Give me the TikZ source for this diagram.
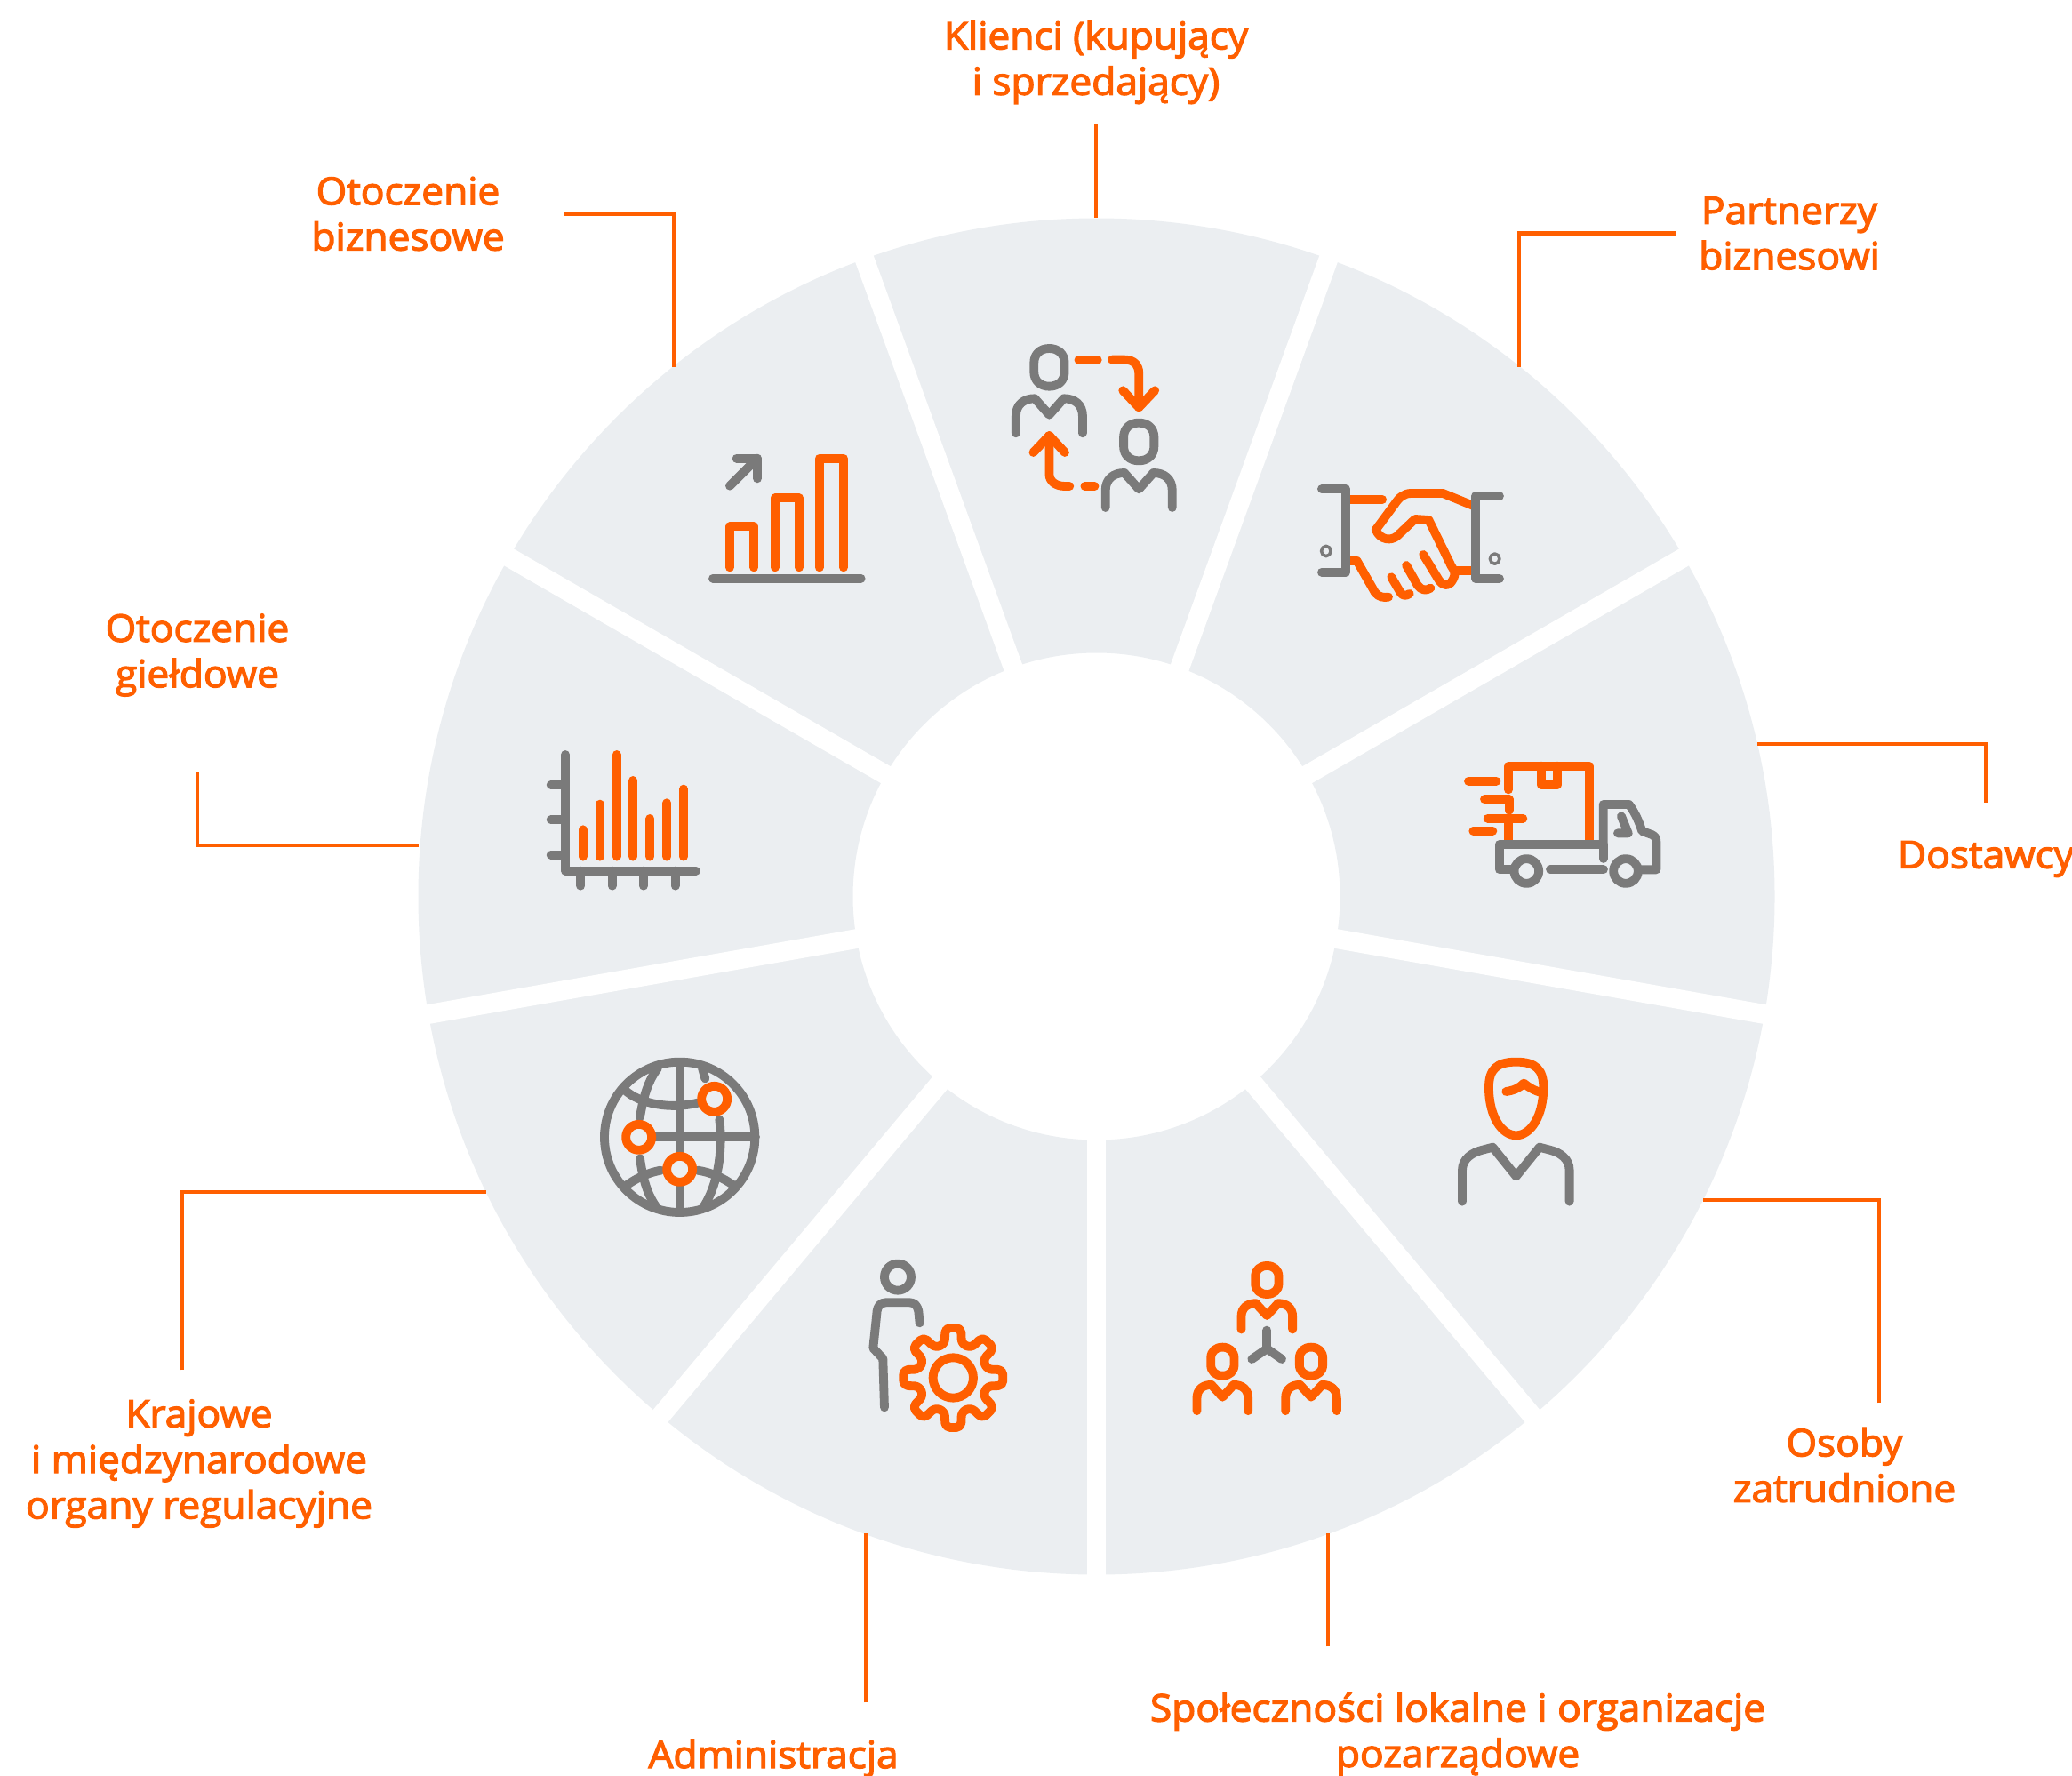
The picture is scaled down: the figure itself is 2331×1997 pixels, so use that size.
\documentclass[tikz,border=0pt]{standalone}
\usepackage{fontspec}
\setmainfont{Open Sans}[FakeBold=3, FakeStretch=1.04]
\usepackage{xcolor}
\usepackage{tikz}
\usetikzlibrary{calc}
\definecolor{accentorange}{RGB}{255, 95, 0}
\definecolor{icongrey}{RGB}{122, 122, 122}
\definecolor{wheelgrey}{RGB}{235, 238, 241}
\tikzset{
    iconOrange/.style={color=accentorange, line width=2.8pt, line cap=round, line join=round},
    iconGrey/.style={color=icongrey, line width=2.8pt, line cap=round, line join=round},
    leader/.style={draw=accentorange, line width=1.3pt},
    lab/.style={text=accentorange, font=\fontsize{12.1pt}{14.6pt}\selectfont, align=center, inner sep=0pt},
    personicon/.pic={
        \draw (-42,-15) .. controls (-42,-45) and (-25,-64) .. (0,-64) .. controls (25,-64) and (42,-45) .. (42,-15) -- (42,15) .. controls (42,45) and (25,64) .. (0,64) .. controls (-25,64) and (-42,45) .. (-42,15) -- cycle;
        \draw (-92,222) -- (-92,165) .. controls (-92,125) and (-70,105) .. (-40,105) -- (0,160) -- (40,105) .. controls (70,105) and (92,125) .. (92,165) -- (92,222);
    }
}

\begin{document}
\begin{tikzpicture}[x=0.01cm, y=-0.01cm]
        \useasboundingbox (0,0) rectangle (2331,1997);

        % Wheel
        \coordinate (hub) at (1233.5,1008.5);
        \fill[wheelgrey, even odd rule] (hub) circle (763) (hub) circle (274);
        \foreach \ang in {10,50,...,330}
            \draw[white, line width=6.2pt] (hub) -- ++(\ang:800);

        % Labels
        \node[lab, outer ysep=6.5pt] (klienci) at (1233,70) {Klienci (kupujący\\i sprzedający)};
        \node[lab, outer xsep=7.5pt] (partnerzy) at (2013,262.5) {Partnerzy\\biznesowi};
        \node[lab, outer ysep=12.3pt] (dostawcy) at (2234,966.5) {Dostawcy};
        \node[lab, outer ysep=7.85pt] (osoby) at (2075,1648) {Osoby\\zatrudnione};
        \node[lab, outer ysep=14.7pt] (spolecznosci) at (1640,1951) {Społeczności lokalne i organizacje\\pozarządowe};
        \node[lab, outer ysep=11.8pt] (administracja) at (870,1978) {Administracja};
        \node[lab, outer ysep=9.4pt] (krajowe) at (224,1646.5) {Krajowe\\i międzynarodowe\\organy regulacyjne};
        \node[lab, outer ysep=24.4pt] (gieldowe) at (222,737) {Otoczenie\\giełdowe};
        \node[lab, outer xsep=19.15pt] (biznesowe) at (459,240.5) {Otoczenie\\biznesowe};

        % Leaders
        \coordinate (klienciRim) at (1233,245);
        \coordinate (partnerzyRim) at (1709,413);
        \coordinate (dostawcyRim) at (1977,837);
        \coordinate (osobyRim) at (1916,1350);
        \coordinate (spolecznosciRim) at (1494,1725);
        \coordinate (administracjaRim) at (974,1725);
        \coordinate (krajoweRim) at (547,1341);
        \coordinate (gieldoweRim) at (471,951);
        \coordinate (biznesoweRim) at (758,413);
        \coordinate (osobyTip) at (osoby.north -| 2114,0);
        \coordinate (spolecznosciTip) at (spolecznosci.north -| spolecznosciRim);
        \coordinate (administracjaTip) at (administracja.north -| administracjaRim);
        \coordinate (krajoweTip) at (krajowe.north -| 205,0);
        \draw[leader] (klienci.south) -- (klienciRim);
        \draw[leader] (partnerzy.west) -| (partnerzyRim);
        \draw[leader] (dostawcy.north) |- (dostawcyRim);
        \draw[leader] (osobyTip) |- (osobyRim);
        \draw[leader] (spolecznosciTip) -- (spolecznosciRim);
        \draw[leader] (administracjaTip) -- (administracjaRim);
        \draw[leader] (krajoweTip) |- (krajoweRim);
        \draw[leader] (gieldowe.south) |- (gieldoweRim);
        \draw[leader] (biznesowe.east) -| (biznesoweRim);

        % Clients and handshake
        \begin{scope}[shift={(1100,360)}, xscale=0.40816, yscale=0.3333]
            \pic[iconGrey, transform shape] at (197,160) {personicon};
            \pic[iconGrey, transform shape] at (444,411) {personicon};
            \draw[iconOrange] (278,134) -- (330,134);
            \draw[iconOrange] (370,134) -- (405,134) .. controls (430,134) and (444,152) .. (444,180) -- (444,295);
            \draw[iconOrange] (400,238) -- (444,295) -- (488,238);
            \draw[iconOrange] (197,390) -- (197,520) .. controls (197,545) and (215,561) .. (240,561) -- (253,561);
            \draw[iconOrange] (295,561) -- (322,561);
            \draw[iconOrange] (153,447) -- (197,390) -- (240,447);
            % hands
            \draw[iconOrange] (1028,606) -- (1115,606);
            \draw[iconOrange] (1372,630) -- (1282,585) -- (1195,585) .. controls (1175,585) and (1162,598) .. (1150,620) -- (1097,708) .. controls (1110,745) and (1140,745) .. (1155,730) -- (1205,672) -- (1243,675) -- (1305,830) .. controls (1315,850) and (1318,855) .. (1310,875) .. controls (1300,900) and (1285,900) .. (1272,880) -- (1228,792);
            \draw[iconOrange] (1318,845) -- (1372,845);
            \draw[iconOrange] (1028,813) -- (1045,813) -- (1095,920) .. controls (1105,935) and (1118,938) .. (1132,935);
            \draw[iconOrange] (1140,868) -- (1165,920) .. controls (1172,932) and (1180,932) .. (1190,924);
            \draw[iconOrange] (1181,828) -- (1212,895) .. controls (1222,912) and (1235,915) .. (1248,905);
            \draw[iconGrey] (948,571) -- (1015,571) -- (1015,851) -- (948,851);
            \draw[iconGrey] (1438,595) -- (1372,595) -- (1372,873) -- (1438,873);
            \draw[iconGrey, line width=1pt] (960,780) ellipse (13 and 17);
            \draw[iconGrey, line width=1pt] (1425,806) ellipse (13 and 17);
        \end{scope}

        % Truck
        \begin{scope}[shift={(1600,830)}, scale=0.3333]
            \draw[iconOrange] (291,175) -- (291,95) -- (564,95) -- (564,345);
            \draw[iconOrange] (401,95) -- (401,160) -- (457,160) -- (457,95);
            \draw[iconOrange] (156,146) -- (250,146);
            \draw[iconOrange] (210,208) -- (293,208) -- (293,245);
            \draw[iconOrange] (221,272) -- (340,272);
            \draw[iconOrange] (291,272) -- (291,345);
            \draw[iconOrange] (172,314) -- (238,314);
            \draw[iconGrey] (305,445) -- (260,445) -- (260,360) -- (611,360) -- (611,408);
            \draw[iconGrey] (611,360) -- (611,225) -- (698,225) .. controls (720,255) and (732,285) .. (742,315) -- (775,327) .. controls (785,332) and (790,338) .. (790,350) -- (790,445) -- (738,445);
            \draw[iconGrey] (352,450) circle (41.5);
            \draw[iconGrey] (687,450) circle (41.5);
            \draw[iconGrey] (432,445) -- (612,445);
            \draw[iconGrey] (672,265) -- (695,322) -- (660,322);
        \end{scope}

        % Employee and local communities
        \begin{scope}[shift={(1300,1160)}, scale=0.3333]
            \draw[iconOrange] (1217,104) .. controls (1150,104) and (1125,130) .. (1125,190) .. controls (1125,290) and (1170,352) .. (1217,352) .. controls (1264,352) and (1309,290) .. (1309,190) .. controls (1309,130) and (1284,104) .. (1217,104) -- cycle;
            \draw[iconOrange] (1183,204) .. controls (1210,200) and (1228,192) .. (1243,176) .. controls (1260,190) and (1280,202) .. (1305,208);
            \draw[iconGrey] (1035,575) -- (1035,470) .. controls (1035,430) and (1070,410) .. (1100,402) -- (1138,392) -- (1217,490) -- (1296,392) -- (1334,402) .. controls (1364,410) and (1397,430) .. (1397,470) -- (1397,575);
            \foreach \hx/\hy in {376/840, 226/1115, 525/1115}
                \pic[iconOrange, transform shape, xscale=0.94, yscale=0.75] at (\hx,\hy) {personicon};
            \draw[iconGrey] (376,1010) -- (376,1072);
            \draw[iconGrey] (325,1107) -- (376,1072) -- (426,1107);
        \end{scope}

        % Globe and gear
        \begin{scope}[shift={(650,1170)}, scale=0.3333]
            \draw[iconGrey] (344,328) circle (254);
            \draw[iconGrey] (344,75) -- (344,375);
            \draw[iconGrey] (344,500) -- (344,580);
            \draw[iconGrey] (250,328) -- (600,328);
            \draw[iconGrey] (270,95) .. controls (235,140) and (220,200) .. (210,260);
            \draw[iconGrey] (210,400) .. controls (220,470) and (235,525) .. (270,570);
            \draw[iconGrey] (420,95) -- (430,130);
            \draw[iconGrey] (478,268) .. controls (490,370) and (475,490) .. (420,570);
            \draw[iconGrey] (160,170) .. controls (210,215) and (310,235) .. (405,212);
            \draw[iconGrey] (165,490) .. controls (200,465) and (240,447) .. (280,440);
            \draw[iconGrey] (405,440) .. controls (450,447) and (490,465) .. (525,490);
            \foreach \cx/\cy in {461/199, 206/328, 344/436}
                \draw[iconOrange] (\cx,\cy) circle (43.5);
            \draw[iconGrey] (1080,800) circle (45);
            \draw[iconGrey] (1154,955) -- (1150,915) .. controls (1146,895) and (1135,886) .. (1120,886) -- (1040,886) .. controls (1020,886) and (1012,900) .. (1010,915) -- (997,1040) -- (1030,1075) -- (1035,1240);
            \begin{scope}[shift={(1267,1140)}]
                \draw[iconOrange] (0,0) circle (68);
                \draw[iconOrange, rounded corners=1.5pt] (-14:118) -- (-9:170) -- (9:170) -- (14:118)
                    \foreach \t in {45,90,...,315} { -- (\t-14:118) -- (\t-9:170) -- (\t+9:170) -- (\t+14:118) } -- cycle;
            \end{scope}
        \end{scope}

        % Bar charts
        \begin{scope}[shift={(590,490)}, scale=0.3333]
            \foreach \bx/\by in {693/307, 845/211, 995/77}
                \draw[iconOrange] (\bx,445) -- (\bx,\by) -- (\bx+82,\by) -- (\bx+82,445);
            \draw[iconGrey] (636,482) -- (1136,482);
            \draw[iconGrey] (693,170) -- (786,77);
            \draw[iconGrey] (716,77) -- (786,77) -- (786,145);
            % market chart
            \foreach \bx/\by in {197/1330, 254/1244, 311/1077, 367/1164, 424/1293, 481/1240, 537/1193}
                \draw[iconOrange] (\bx,1421) -- (\bx,\by);
            \draw[iconGrey] (138,1077) -- (138,1469) -- (579,1469);
            \foreach \ty in {1179,1297,1415}
                \draw[iconGrey] (89,\ty) -- (138,\ty);
            \foreach \tx in {190,296,402,509}
                \draw[iconGrey] (\tx,1469) -- (\tx,1520);
        \end{scope}
    \end{tikzpicture}
\end{document}
